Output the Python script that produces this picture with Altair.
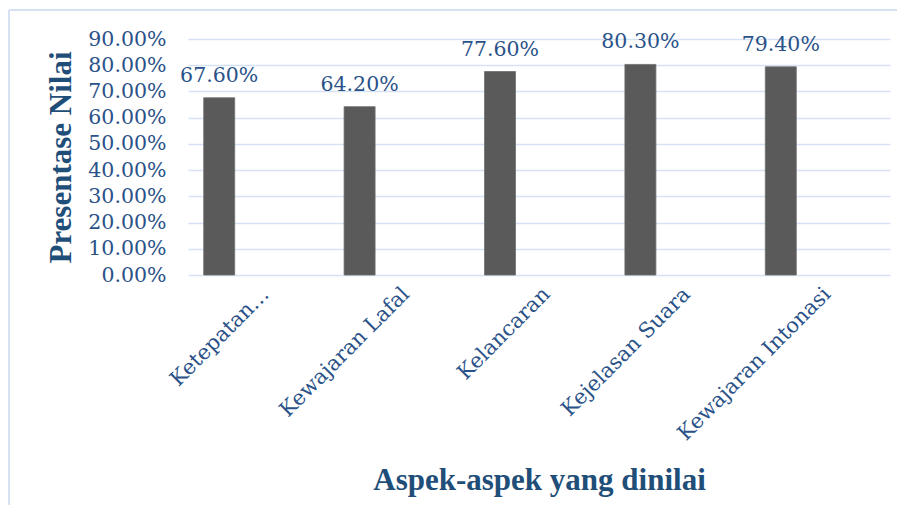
import altair as alt
import pandas as pd

categories = ["Ketepatan…", "Kewajaran Lafal", "Kelancaran", "Kejelasan Suara", "Kewajaran Intonasi"]
values = [0.676, 0.642, 0.776, 0.803, 0.794]
y_ticks = [0, 0.1, 0.2, 0.3, 0.4, 0.5, 0.6, 0.7, 0.8, 0.9]

df = pd.DataFrame({"aspek": categories, "nilai": values})

BLUE = "#1F4E79"
LABEL = "#2A5288"
GRID = "#D6E2F3"
W, H = 702, 236

x_enc = alt.X(
    "aspek:N",
    sort=categories,
    scale=alt.Scale(paddingInner=0, paddingOuter=0),
    title="Aspek-aspek yang dinilai",
    axis=alt.Axis(
        labelAngle=-45,
        labelFont="DejaVu Serif",
        labelFontSize=21,
        labelColor=LABEL,
        labelPadding=8,
        labelLimit=400,
        labelOverlap=False,
        ticks=False,
        domain=False,
        grid=False,
        titleFont="Liberation Serif",
        titleFontWeight="bold",
        titleFontSize=31,
        titleColor=BLUE,
        titlePadding=22,
    ),
)
y_enc = alt.Y(
    "nilai:Q",
    scale=alt.Scale(domain=[0, 0.9], nice=False),
    title="Presentase Nilai",
    axis=alt.Axis(
        values=y_ticks,
        format=".2%",
        labelFont="DejaVu Serif",
        labelFontSize=20.5,
        labelColor=LABEL,
        labelPadding=22,
        labelOverlap=False,
        ticks=False,
        domain=False,
        grid=True,
        gridColor=GRID,
        gridWidth=1.5,
        titleFont="Liberation Serif",
        titleFontWeight="bold",
        titleFontSize=31,
        titleColor=BLUE,
        titlePadding=10,
    ),
)

bars = alt.Chart(df).mark_bar(width=31, xOffset=-39, color="#5A5A5A", stroke="#6E6E6E", strokeWidth=0.8).encode(
    x=x_enc, y=y_enc
)

text = alt.Chart(df).mark_text(
    xOffset=-39, dy=-16, baseline="alphabetic", font="DejaVu Serif", fontSize=20.5, color=LABEL
).encode(x=x_enc, y=y_enc, text=alt.Text("nilai:Q", format=".2%"))

frame_top = alt.Chart(df).mark_rule(color=GRID, strokeWidth=1.5, clip=False).encode(
    x=alt.value(-179), x2=alt.value(W + 20), y=alt.value(-29)
)
frame_left = alt.Chart(df).mark_rule(color=GRID, strokeWidth=1.5, clip=False).encode(
    x=alt.value(-179), y=alt.value(-29), y2=alt.value(H + 260)
)

chart = (
    alt.layer(frame_top, frame_left, bars, text)
    .properties(
        width=W,
        height=H,
        background="white",
        autosize=alt.AutoSizeParams(type="none"),
        padding={"left": 180, "top": 31, "right": 7, "bottom": 230},
    )
    .configure_view(strokeWidth=0, stroke="transparent")
    .configure_axisX(grid=False, domain=False, ticks=False)
)

chart.save("out.html", embed_options={"renderer": "svg", "actions": False})
